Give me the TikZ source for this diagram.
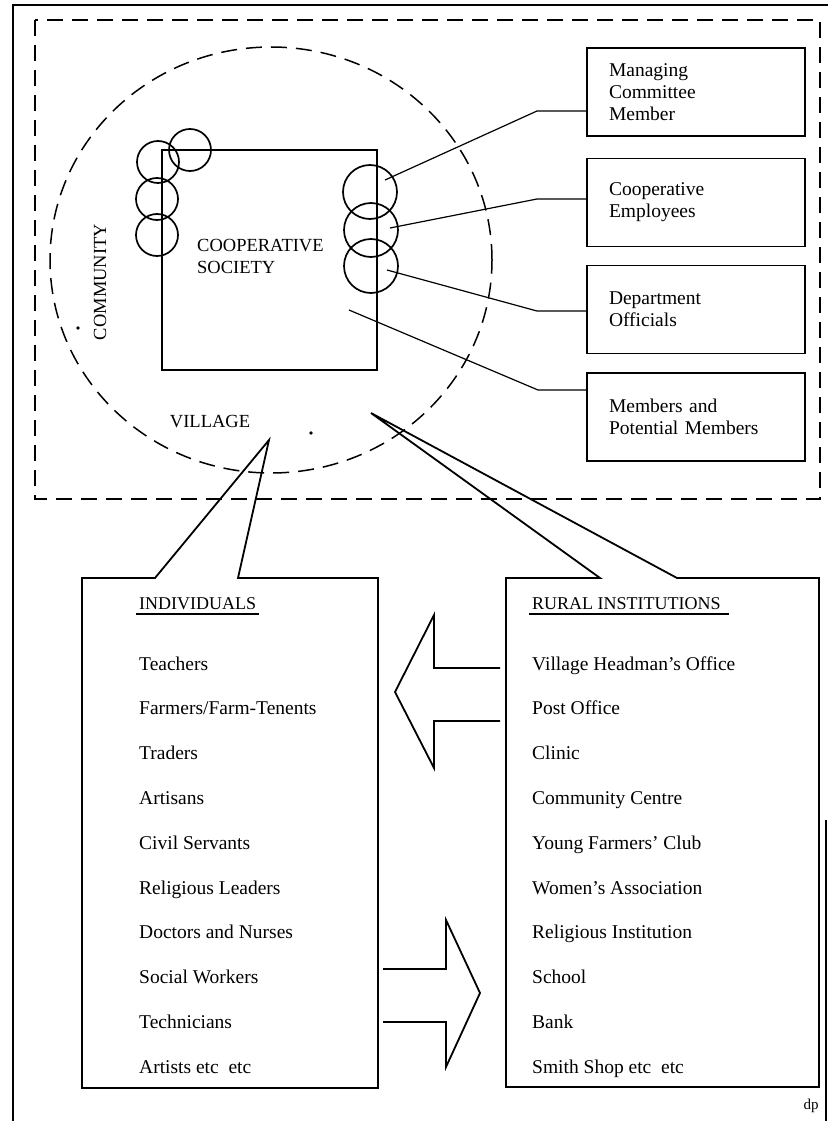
\documentclass[tikz,border=0pt]{standalone}
\usepackage{fontspec}
\setmainfont{Liberation Serif}
\usetikzlibrary{calc}
\tikzset{
  frame/.style={line width=1.8pt},
  thin/.style={line width=1.2pt},
  dashline/.style={line width=1.5pt,dash pattern=on 16pt off 9pt},
  ring/.style={circle,draw,line width=1.7pt,inner sep=0pt},
  rolebox/.style={draw,line width=1.8pt,minimum height=88pt,text width=174pt,
    inner xsep=22pt,align=left,font=\fontsize{19.5}{22}\selectfont},
  item/.style={anchor=base west,inner sep=0pt,font=\fontsize{19.5}{22}\selectfont},
  capl/.style={inner sep=0pt,font=\fontsize{18.5}{22}\selectfont},
}

\begin{document}
\begin{tikzpicture}[x=1pt,y=-1pt]
\useasboundingbox (0,0) rectangle (828,1121);
\draw[frame] (13,1121) -- (13,5) -- (828,5);
\draw[frame] (826,820) -- (826,1121);
\draw[dashline] (35,20) rectangle (820,499);
\draw[dashline] (271,260) ellipse [x radius=221pt, y radius=213pt];
\node[draw,frame,minimum width=215pt,minimum height=220pt,inner sep=0pt] (coop) at (269.5,260) {};
\node[capl,anchor=west,align=left] (cooplbl) at (197,256) {COOPERATIVE\\SOCIETY};
\node[capl,rotate=90] (community) at (100,282) {COMMUNITY};
\node[capl] (village) at (210,422) {VILLAGE};
\fill (78,328) circle (1.8pt);
\fill (311,433) circle (1.8pt);
\foreach \n/\p in {lc1/{(158,162)},lc2/{(157,199)},lc3/{(157,235)},lc4/{(190,150)}}
  \node[ring,minimum size=42pt] (\n) at \p {};
\foreach \n/\p in {rc1/{(370,192)},rc2/{(371,230)},rc3/{(371,266)}}
  \node[ring,minimum size=54pt] (\n) at \p {};
\node[rolebox] (mcm) at (696,92) {Managing\\Committee\\Member};
\node[rolebox] (emp) at (696,202.5) {Cooperative\\Employees};
\node[rolebox] (dept) at (696,309.5) {Department\\Officials};
\node[rolebox] (memb) at (696,417) {Members and\\Potential Members};
\coordinate (p1) at (385,180);
\coordinate (p2) at (390,228);
\coordinate (p3) at (387,270);
\coordinate (p4) at (349,310);
\coordinate (k1) at (537,111);
\coordinate (k2) at (537,199);
\coordinate (k3) at (537,311);
\coordinate (k4) at (538,390);
\draw[thin] (p1) -- (k1) -- (k1 -| mcm.west);
\draw[thin] (p2) -- (k2) -- (k2 -| emp.west);
\draw[thin] (p3) -- (k3) -- (k3 -| dept.west);
\draw[thin] (p4) -- (k4) -- (k4 -| memb.west);
\coordinate (apexL) at (269,440);
\coordinate (apexR) at (371,413);
\draw[frame] (apexL) -- (155,578) -- (82,578) -- (82,1088) -- (378,1088)
  -- (378,578) -- (238,578) -- cycle;
\draw[frame] (apexR) -- (600,578) -- (506,578) -- (506,1087) -- (819,1087)
  -- (819,578) -- (677,578) -- cycle;
\node[item,font=\fontsize{18}{22}\selectfont] (indiv) at (139,609) {INDIVIDUALS};
\draw[frame] ($(indiv.base west)+(-3,5)$) -- ($(indiv.base east)+(3,5)$);
\node[item,font=\fontsize{18}{22}\selectfont] (rural) at (532,609) {RURAL INSTITUTIONS};
\draw[frame] ($(rural.base west)+(-3,5)$) -- ($(rural.base east)+(8,5)$);
\foreach \t [count=\i] in {Teachers,Farmers/Farm-Tenents,Traders,Artisans,
  Civil Servants,Religious Leaders,Doctors and Nurses,Social Workers,
  Technicians,Artists etc~~etc}
  \node[item] (ind\i) at (139,{670+44.8*(\i-1)}) {\t};
\foreach \t [count=\i] in {Village Headman’s Office,Post Office,Clinic,
  Community Centre,Young Farmers’ Club,Women’s Association,
  Religious Institution,School,Bank,Smith Shop etc~~etc}
  \node[item] (inst\i) at (532,{670+44.8*(\i-1)}) {\t};
\draw[frame] (500,668) -- (434,668) -- (434,615) -- (395,692) -- (434,768)
  -- (434,721) -- (500,721);
\draw[frame] (383,969) -- (446,969) -- (446,920) -- (480,993) -- (446,1067)
  -- (446,1022) -- (383,1022);
\node[inner sep=0pt,font=\fontsize{15}{17}\selectfont] (dp) at (811,1106) {dp};
\end{tikzpicture}
\end{document}
